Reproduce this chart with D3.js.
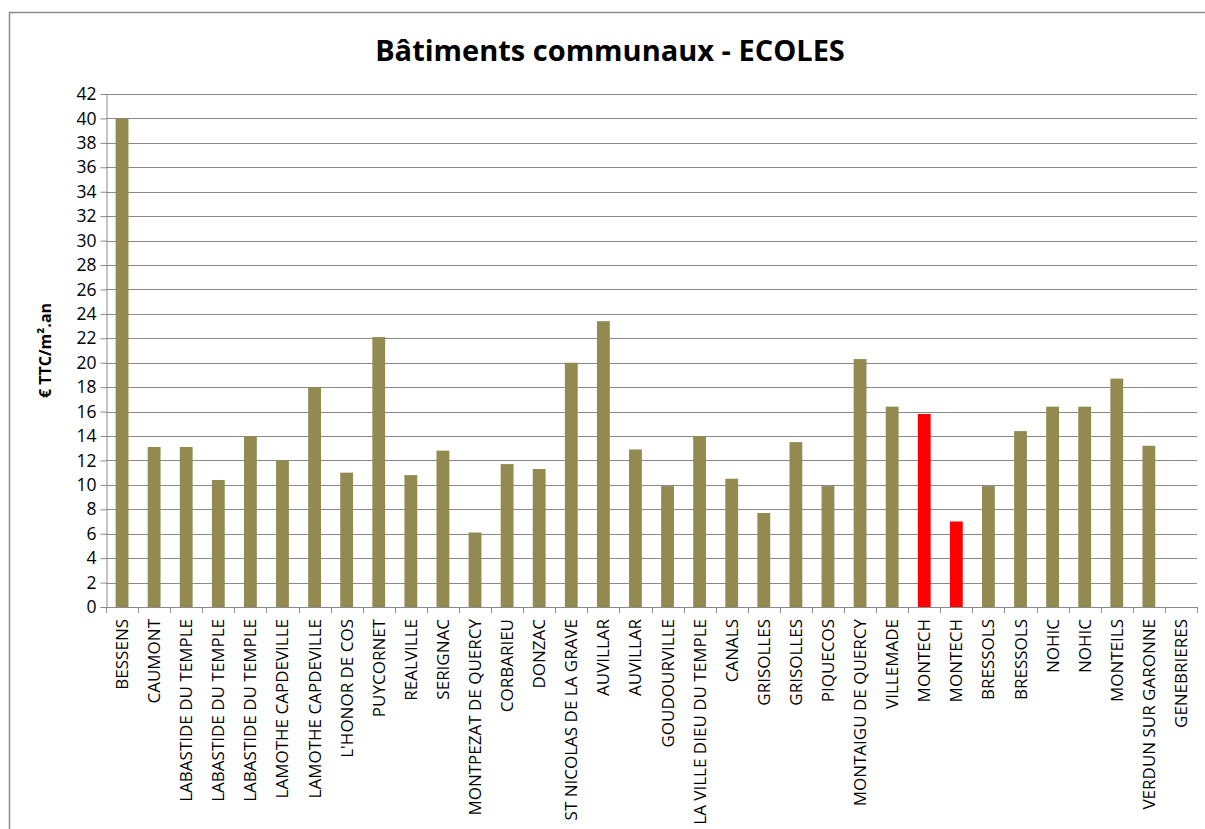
<!DOCTYPE html>
<html><head><meta charset="utf-8">
<script src="https://cdn.jsdelivr.net/npm/d3@7"></script>
<style>
html,body{margin:0;padding:0;background:#fff;}
text{font-family:"Open Sans","Noto Sans",sans-serif;}
</style></head>
<body>
<svg id="chart" width="1205" height="829"></svg>
<script>
const categories = ["BESSENS","CAUMONT","LABASTIDE DU TEMPLE","LABASTIDE DU TEMPLE","LABASTIDE DU TEMPLE","LAMOTHE CAPDEVILLE","LAMOTHE CAPDEVILLE","L'HONOR DE COS","PUYCORNET","REALVILLE","SERIGNAC","MONTPEZAT DE QUERCY","CORBARIEU","DONZAC","ST NICOLAS DE LA GRAVE","AUVILLAR","AUVILLAR","GOUDOURVILLE","LA VILLE DIEU DU TEMPLE","CANALS","GRISOLLES","GRISOLLES","PIQUECOS","MONTAIGU DE QUERCY","VILLEMADE","MONTECH","MONTECH","BRESSOLS","BRESSOLS","NOHIC","NOHIC","MONTEILS","VERDUN SUR GARONNE","GENEBRIERES"];
const values = [40,13.1,13.1,10.4,14.0,12.0,18.0,11.0,22.1,10.8,12.8,6.1,11.7,11.3,20.0,23.4,12.9,9.9,14.0,10.5,7.7,13.5,9.9,20.3,16.4,15.8,7.0,9.9,14.4,16.4,16.4,18.7,13.2,0];
const highlighted = [false,false,false,false,false,false,false,false,false,false,false,false,false,false,false,false,false,false,false,false,false,false,false,false,false,true,true,false,false,false,false,false,false,false];
const yTicks = d3.range(0, 43, 2);
const title = "Bâtiments communaux - ECOLES";
const yTitle = "€ TTC/m².an";

(function(){
const svg = d3.select("#chart");
const mLeft = 106, mRight = 1197, mTop = 94, mBottom = 607;
const x = d3.scaleBand().domain(d3.range(categories.length)).range([mLeft, mRight]).paddingInner(0.6).paddingOuter(0.3);
const y = d3.scaleLinear().domain([0, 42]).range([mBottom, mTop]);

svg.append("rect").attr("x",9.5).attr("y",12.5).attr("width",1300).attr("height",900)
  .attr("fill","none").attr("stroke","#8c8c8c").attr("stroke-width",1.5);

svg.append("text").attr("x",610).attr("y",61).attr("text-anchor","middle")
  .attr("font-size",29).attr("font-weight","bold").attr("fill","#000").text(title);

svg.append("g").selectAll("line").data(yTicks.filter(d=>d>0)).join("line")
  .attr("x1",mLeft).attr("x2",mRight).attr("y1",d=>Math.round(y(d))+0.5).attr("y2",d=>Math.round(y(d))+0.5)
  .attr("stroke","#8a8a8a").attr("stroke-width",1);

const yAxis = svg.append("g").attr("transform",`translate(${mLeft+0.5},0)`)
  .call(d3.axisLeft(y).tickValues(yTicks).tickSize(6).tickSizeOuter(0).tickPadding(4));
yAxis.selectAll("path,line").attr("stroke","#8a8a8a");
yAxis.selectAll("text").attr("font-size",17.5).attr("fill","#000").attr("font-family","\"Open Sans\",sans-serif");

svg.append("g").selectAll("rect").data(values).join("rect")
  .attr("x",(d,i)=>x(i)).attr("width",x.bandwidth())
  .attr("y",d=>y(d)).attr("height",d=>y(0)-y(d))
  .attr("fill",(d,i)=>highlighted[i]?"#ff0000":"#938a52");

const n = categories.length;
const xb = svg.append("g");
xb.append("line").attr("x1",mLeft).attr("x2",mRight).attr("y1",mBottom+0.5).attr("y2",mBottom+0.5).attr("stroke","#8a8a8a");
xb.selectAll("line.t").data(d3.range(n+1)).join("line").attr("class","t")
  .attr("x1",i=>Math.round(mLeft+i*(mRight-mLeft)/n)+0.5)
  .attr("x2",i=>Math.round(mLeft+i*(mRight-mLeft)/n)+0.5)
  .attr("y1",mBottom).attr("y2",mBottom+6).attr("stroke","#8a8a8a");

svg.append("g").selectAll("text").data(categories).join("text")
  .attr("transform",(d,i)=>`translate(${x(i)+x.bandwidth()/2+6},${mBottom+12}) rotate(-90)`)
  .attr("text-anchor","end").attr("font-size",17).attr("fill","#000").text(d=>d);

svg.append("text").attr("transform",`translate(51,${(mTop+mBottom)/2}) rotate(-90)`)
  .attr("text-anchor","middle").attr("font-size",16).attr("font-weight","bold").text(yTitle);
})();
</script>
</body></html>
